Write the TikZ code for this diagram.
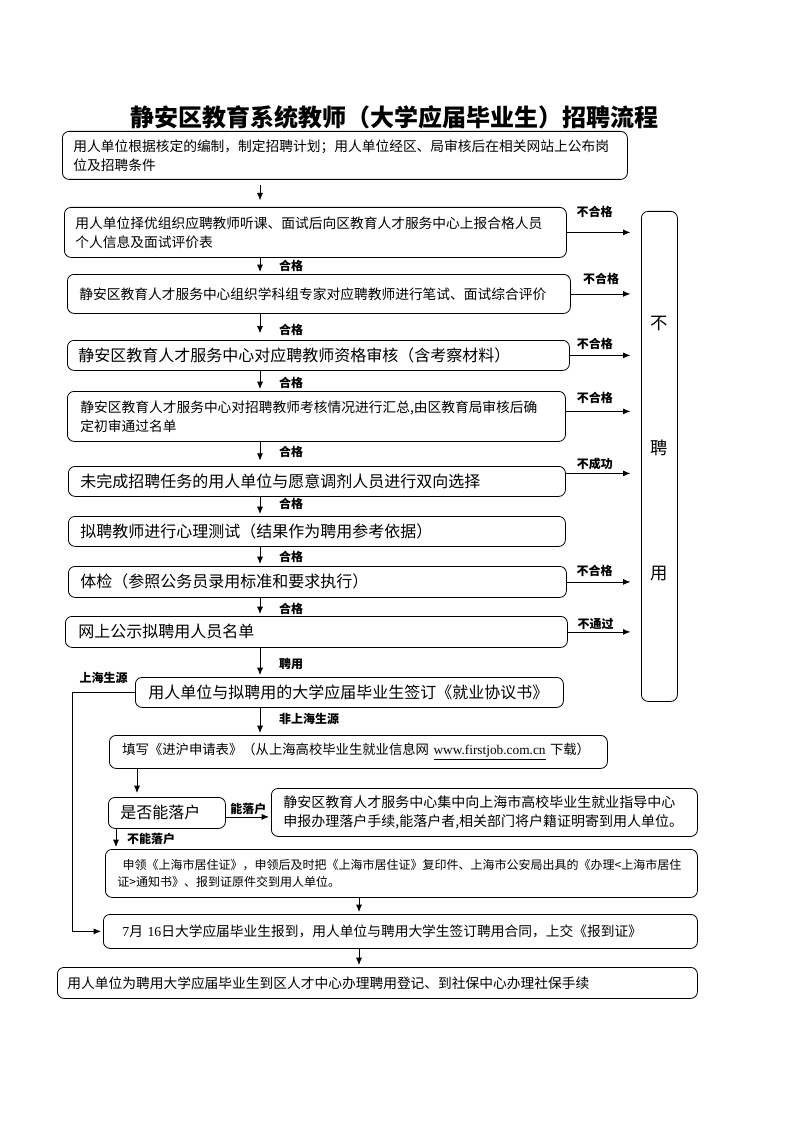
\documentclass[tikz,border=0pt]{standalone}
\usepackage{fontspec}
\setmainfont{Noto Sans CJK SC}
\newfontfamily\latinface{Liberation Serif}
\usetikzlibrary{arrows.meta,positioning}
\newcommand{\stepsmall}{\fontsize{10.3pt}{14.3pt}\selectfont}
\newcommand{\stepbig}{\fontsize{12pt}{15pt}\selectfont}
\newcommand{\steptiny}{\fontsize{9pt}{12.75pt}\selectfont}
\tikzset{stepbox/.style={draw, line width=0.6pt, rounded corners=5pt, anchor=north west, align=left, inner ysep=0pt},
  tag/.style={font=\fontsize{9pt}{10pt}\selectfont\bfseries, inner sep=1pt},
  arr/.style={-{Latex[length=5.5pt,width=4.5pt]}, line width=0.6pt, shorten >=1.5pt}}

\begin{document}
\begin{tikzpicture}[x=0.75pt, y=-0.75pt]
\useasboundingbox (0,0) rectangle (794,1123);
\node[font=\fontsize{18pt}{20pt}\selectfont\bfseries] (title) at (394,117) {静安区教育系统教师（大学应届毕业生）招聘流程};
% main column
\node[stepbox, font=\stepsmall, text width=407.25pt, minimum height=36pt, inner xsep=8.25pt] (b1) at (62,131) {用人单位根据核定的编制，制定招聘计划；用人单位经区、局审核后在相关网站上公布岗\\位及招聘条件};
\node[stepbox, font=\stepsmall, text width=360pt, minimum height=37.5pt, inner xsep=8.25pt] (b2) at (64,207) {用人单位择优组织应聘教师听课、面试后向区教育人才服务中心上报合格人员\\个人信息及面试评价表};
\node[stepbox, font=\stepsmall, text width=359.25pt, minimum height=29.25pt, inner xsep=9pt] (b3) at (67,274) {静安区教育人才服务中心组织学科组专家对应聘教师进行笔试、面试综合评价};
\node[stepbox, font=\stepbig, text width=360pt, minimum height=22.5pt, inner xsep=8.25pt] (b4) at (67,340) {静安区教育人才服务中心对应聘教师资格审核（含考察材料）};
\node[stepbox, font=\stepsmall, text width=354pt, minimum height=37.5pt, inner xsep=9.75pt] (b5) at (67,391) {静安区教育人才服务中心对招聘教师考核情况进行汇总,由区教育局审核后确\\定初审通过名单};
\node[stepbox, font=\stepbig, text width=354.75pt, minimum height=22.5pt, inner xsep=9pt] (b6) at (68,466) {未完成招聘任务的用人单位与愿意调剂人员进行双向选择};
\node[stepbox, font=\stepbig, text width=354.75pt, minimum height=22.5pt, inner xsep=9pt] (b7) at (68,516) {拟聘教师进行心理测试（结果作为聘用参考依据）};
\node[stepbox, font=\stepbig, text width=355.5pt, minimum height=23.25pt, inner xsep=9pt] (b8) at (68,566) {体检（参照公务员录用标准和要求执行）};
\node[stepbox, font=\stepbig, text width=357pt, minimum height=23.25pt, inner xsep=9.75pt] (b9) at (65,616) {网上公示拟聘用人员名单};
\node[stepbox, font=\stepbig, text width=301.5pt, minimum height=22.5pt, inner xsep=9.75pt] (b10) at (135,677) {用人单位与拟聘用的大学应届毕业生签订《就业协议书》};
\node[stepbox, font=\fontsize{10pt}{14pt}\selectfont, text width=354pt, minimum height=24.75pt, inner xsep=9.75pt] (b11) at (109,735) {填写《进沪申请表》（从上海高校毕业生就业信息网 {\latinface\underline{www.firstjob.com.cn}} 下载）};
\node[stepbox, font=\stepbig, text width=69.75pt, minimum height=23.25pt, inner xsep=9pt] (b12) at (108,797) {是否能落户};
\node[stepbox, font=\fontsize{10.5pt}{14.3pt}\selectfont, text width=301.5pt, minimum height=36pt, inner xsep=9pt] (b13) at (271,788) {静安区教育人才服务中心集中向上海市高校毕业生就业指导中心\\申报办理落户手续,能落户者,相关部门将户籍证明寄到用人单位。};
\node[stepbox, font=\steptiny, text width=426pt, minimum height=36pt, inner xsep=9pt] (b14) at (105,849) {\hspace{4pt}申领《上海市居住证》，申领后及时把《上海市居住证》复印件、上海市公安局出具的《办理<上海市居住\\证>通知书》、报到证原件交到用人单位。};
\node[stepbox, font=\stepsmall, text width=417pt, minimum height=25.5pt, inner xsep=14.25pt] (b15) at (103,914) {{\latinface 7}月 {\latinface 16}日大学应届毕业生报到，用人单位与聘用大学生签订聘用合同，上交《报到证》};
\node[stepbox, font=\stepsmall, text width=465pt, minimum height=23.25pt, inner xsep=7.5pt] (b16) at (57,967) {用人单位为聘用大学应届毕业生到区人才中心办理聘用登记、到社保中心办理社保手续};
% not hired
\node[draw, line width=0.6pt, rounded corners=5pt, anchor=north west, minimum width=27pt, minimum height=367.5pt, inner sep=0pt] (nopin) at (641,211) {};
\node[font=\fontsize{13pt}{94pt}\selectfont, align=center] (nopintxt) at ([yshift=6pt]nopin.center) {不\\聘\\用};
% arrow columns
\coordinate (spine) at (260,0);
\coordinate (shx) at (72,0);
\coordinate (colb) at (137,0);
\coordinate (colc) at (116,0);
\coordinate (cold) at (359,0);
\draw[arr, shorten <=4pt, shorten >=5pt] (b1.south -| spine) -- (b2.north -| spine);
\draw[arr] (b2.south -| spine) -- node[tag, pos=0.5, right=13pt] (g2) {合格} (b3.north -| spine);
\draw[arr, shorten >=5pt] (b3.south -| spine) -- node[tag, pos=0.63, right=13pt] (g3) {合格} (b4.north -| spine);
\draw[arr] (b4.south -| spine) -- node[tag, pos=0.62, right=13pt] (g4) {合格} (b5.north -| spine);
\draw[arr, shorten >=4pt] (b5.south -| spine) -- node[tag, pos=0.4, right=13pt] (g5) {合格} (b6.north -| spine);
\draw[arr] (b6.south -| spine) -- node[tag, pos=0.35, right=13pt] (g6) {合格} (b7.north -| spine);
\draw[arr] (b7.south -| spine) -- node[tag, pos=0.55, right=13pt] (g7) {合格} (b8.north -| spine);
\draw[arr] (b8.south -| spine) -- node[tag, pos=0.63, right=13pt] (g8) {合格} (b9.north -| spine);
\draw[arr] (b9.south -| spine) -- node[tag, pos=0.55, right=13pt] (g9) {聘用} (b10.north -| spine);
\draw[arr] (b10.south -| spine) -- node[tag, pos=0.4, right=13pt] (g10) {非上海生源} (b11.north -| spine);
\draw[arr, shorten >=3pt] (b11.south -| colb) -- (b12.north -| colb);
\draw[arr] ([yshift=-3pt]b12.east) -- node[tag, above=0pt] (g12) {能落户} ([yshift=-3pt]b12.east -| b13.west);
\draw[arr] (b12.south -| colc) -- node[tag, right=7pt] (g13) {不能落户} (b14.north -| colc);
\draw[arr] (b14.south -| cold) -- (b15.north -| cold);
\draw[arr] (b15.south -| cold) -- (b16.north -| cold);
\draw[arr] (b10.west) -- node[tag, above=5pt] (g14) {上海生源} (b10.west -| shx) |- (b15.west);
% rejections
\draw[arr, shorten >=8pt] (b2.east) -- (b2.east -| nopin.west) node[tag, pos=0, above right, xshift=6pt, yshift=9.5pt] (n2) {不合格};
\draw[arr, shorten >=8pt] (b3.east) -- (b3.east -| nopin.west) node[tag, pos=0, above right, xshift=8pt, yshift=6pt] (n3) {不合格};
\draw[arr, shorten >=8pt] (b4.east) -- (b4.east -| nopin.west) node[tag, pos=0, above right, xshift=4pt, yshift=2.75pt] (n4) {不合格};
\draw[arr, shorten >=8pt] ([yshift=3.75pt]b5.east) -- ([yshift=3.75pt]b5.east -| nopin.west) node[tag, pos=0, above right, xshift=7pt, yshift=4.25pt] (n5) {不合格};
\draw[arr, shorten >=8pt] ([yshift=6pt]b6.east) -- ([yshift=6pt]b6.east -| nopin.west) node[tag, pos=0, above right, xshift=7pt, yshift=1.25pt] (n6) {不成功};
\draw[arr, shorten >=8pt] (b8.east) -- (b8.east -| nopin.west) node[tag, pos=0, above right, xshift=6pt, yshift=2.4pt] (n8) {不合格};
\draw[arr, shorten >=8pt] (b9.east) -- (b9.east -| nopin.west) node[tag, pos=0, above right, xshift=6pt, yshift=0pt] (n9) {不通过};
\end{tikzpicture}
\end{document}
